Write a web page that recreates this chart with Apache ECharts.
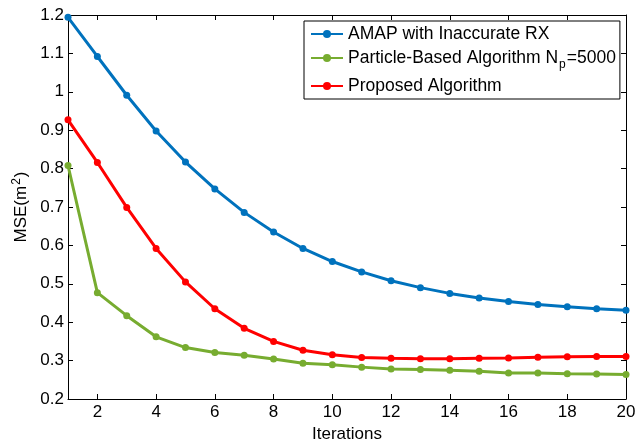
<!DOCTYPE html>
<html>
<head>
<meta charset="utf-8">
<script src="https://cdn.jsdelivr.net/npm/echarts@6/dist/echarts.min.js"></script>
<style>html,body{margin:0;padding:0;background:#fff}#c{width:635px;height:441px}</style>
</head>
<body>
<div id="c"></div>
<script>
const iterations = [1,2,3,4,5,6,7,8,9,10,11,12,13,14,15,16,17,18,19,20];
const amapInaccurate = [1.194,1.092,0.991,0.898,0.817,0.747,0.686,0.635,0.592,0.558,0.531,0.508,0.490,0.475,0.463,0.454,0.446,0.440,0.435,0.431];
const particleBased = [0.808,0.477,0.417,0.362,0.334,0.321,0.314,0.304,0.293,0.289,0.283,0.278,0.277,0.275,0.272,0.268,0.268,0.266,0.265,0.264];
const proposed = [0.927,0.816,0.699,0.592,0.505,0.435,0.384,0.350,0.327,0.315,0.308,0.306,0.305,0.305,0.306,0.307,0.309,0.310,0.311,0.311];
const xTicks = [2,4,6,8,10,12,14,16,18,20];
const seriesNames = ['AMAP with Inaccurate RX','Particle-Based Algorithm Np=5000','Proposed Algorithm'];

const FONT = "'Liberation Sans', Arial, sans-serif";
const pairs = arr => iterations.map((x,i)=>[x,arr[i]]);
const chart = echarts.init(document.getElementById('c'), null, {renderer:'canvas'});
const mkSeries = (name, data, color) => ({
  name, type:'line', data: pairs(data), xAxisIndex:0, yAxisIndex:0,
  symbol:'circle', symbolSize:7, showSymbol:true,
  lineStyle:{color, width:3}, itemStyle:{color}, animation:false
});
const axisLineStyle = {show:true, lineStyle:{color:'#000', width:1}};
chart.setOption({
  animation:false,
  grid:{left:68, right:9, top:15, bottom:42, containLabel:false, outerBoundsMode:'none'},
  legend:{
    orient:'vertical', left:304, top:21,
    backgroundColor:'#fff', borderColor:'#000', borderWidth:1,
    padding:[4,4,4,6], itemGap:6, itemWidth:32, itemHeight:10,
    data: seriesNames,
    formatter: function(name){
      if (name === seriesNames[1]) return '{t|Particle-Based Algorithm N}{s|p}{t|=5000}';
      return '{t|' + name + '}';
    },
    textStyle:{fontFamily:FONT, fontSize:17.5, color:'#000',
      rich:{
        t:{fontFamily:FONT, fontSize:17.5, color:'#000', lineHeight:20},
        s:{fontFamily:FONT, fontSize:12, color:'#000', verticalAlign:'top', padding:[14,1,0,1]}
      }
    }
  },
  xAxis:[
    {type:'value', min:1, max:20, position:'bottom',
     name:'Iterations', nameLocation:'middle', nameGap:23,
     nameTextStyle:{fontFamily:FONT, fontSize:17, color:'#000'},
     axisLine:axisLineStyle,
     axisTick:{show:true, inside:true, length:5, customValues:xTicks, lineStyle:{color:'#000'}},
     axisLabel:{show:true, customValues:xTicks, fontFamily:FONT, fontSize:17, color:'#000', margin:5},
     splitLine:{show:false}},
    {type:'value', min:1, max:20, position:'top',
     axisLine:axisLineStyle,
     axisTick:{show:true, inside:true, length:5, customValues:xTicks, lineStyle:{color:'#000'}},
     axisLabel:{show:false}, splitLine:{show:false}}
  ],
  yAxis:[
    {type:'value', min:0.2, max:1.2, interval:0.1, position:'left',
     name:'{a|MSE(m}{b|2}{a|)}', nameLocation:'middle', nameGap:35,
     nameTextStyle:{fontFamily:FONT, fontSize:17, color:'#000',
       rich:{a:{fontFamily:FONT, fontSize:17, color:'#000'}, b:{fontFamily:FONT, fontSize:12, color:'#000', verticalAlign:'bottom', padding:[0,1,8,1]}}},
     axisLine:axisLineStyle,
     axisTick:{show:true, inside:true, length:5, lineStyle:{color:'#000'}},
     axisLabel:{show:true, fontFamily:FONT, fontSize:17, color:'#000', margin:4},
     splitLine:{show:false}},
    {type:'value', min:0.2, max:1.2, interval:0.1, position:'right',
     axisLine:axisLineStyle,
     axisTick:{show:true, inside:true, length:5, lineStyle:{color:'#000'}},
     axisLabel:{show:false}, splitLine:{show:false}}
  ],
  series:[
    mkSeries(seriesNames[0], amapInaccurate, '#0072BD'),
    mkSeries(seriesNames[1], particleBased, '#77AC30'),
    mkSeries(seriesNames[2], proposed, '#FF0000')
  ]
});
</script>
</body>
</html>
